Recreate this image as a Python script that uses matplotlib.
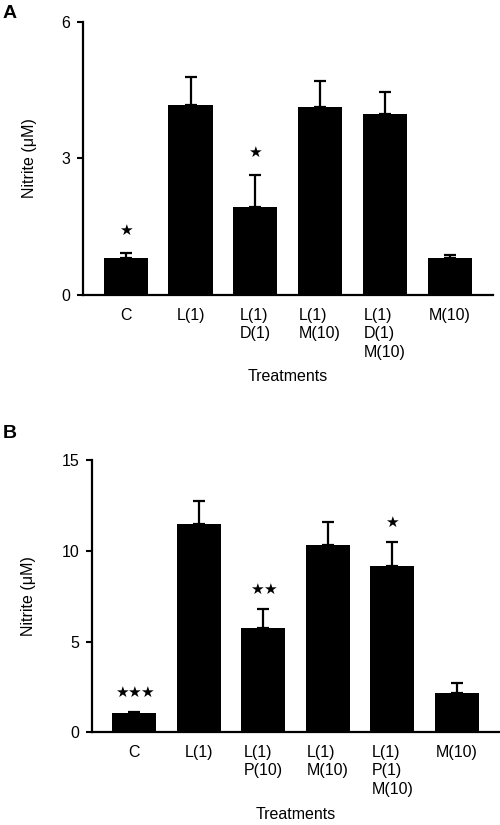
import numpy as np
import matplotlib
matplotlib.use("Agg")
import matplotlib.pyplot as plt

plt.rcParams["font.family"] = ["Liberation Sans", "DejaVu Sans"]

# panel A
labels_a = ["C", "L(1)", "L(1)\nD(1)", "L(1)\nM(10)", "L(1)\nD(1)\nM(10)", "M(10)"]
means_a = [0.81, 4.18, 1.93, 4.14, 3.97, 0.81]
sem_a = [0.11, 0.62, 0.71, 0.57, 0.50, 0.07]
stars_a = [1, 0, 1, 0, 0, 0]

# panel B
labels_b = ["C", "L(1)", "L(1)\nP(10)", "L(1)\nM(10)", "L(1)\nP(1)\nM(10)", "M(10)"]
means_b = [1.05, 11.48, 5.73, 10.32, 9.18, 2.18]
sem_b = [0.08, 1.28, 1.05, 1.25, 1.32, 0.52]
stars_b = [3, 0, 2, 0, 1, 0]

FS = 11.5


def draw_panel(ax, labels, means, sem, stars, ymax, yticks, star_off):
    x = np.arange(len(labels))
    ax.bar(x, means, width=0.68, color="black", zorder=2)
    ax.errorbar(x, means, yerr=[np.zeros(len(sem)), sem], fmt="none", ecolor="black",
                elinewidth=1.6, capsize=4.5, capthick=1.6, zorder=3)
    # significance stars, about 9 pt apart
    for xi, m, s, n in zip(x, means, sem, stars):
        for k in range(n):
            dx = (k - (n - 1) / 2) * 9.0
            ax.annotate("★", (xi, m + s), xytext=(dx, star_off), textcoords="offset points",
                        ha="center", va="center", fontsize=11, family="DejaVu Sans")
    ax.set_xlim(-0.66, len(labels) - 0.33)
    ax.set_ylim(0, ymax)
    ax.set_yticks(yticks)
    ax.set_xticks(x)
    ax.set_xticklabels(labels, fontsize=FS, linespacing=1.3, va="top", multialignment="left")
    ax.tick_params(axis="x", length=0, pad=9)
    ax.tick_params(axis="y", length=4, width=1.5, labelsize=FS, pad=5)
    for side in ["top", "right"]:
        ax.spines[side].set_visible(False)
    for side in ["left", "bottom"]:
        ax.spines[side].set_linewidth(1.6)
    ax.set_ylabel("Nitrite (μM)", fontsize=FS, labelpad=18)
    ax.set_xlabel("Treatments", fontsize=FS, labelpad=7)


fig = plt.figure(figsize=(5, 8.25), dpi=100)
ax_a = fig.add_axes([0.166, 0.6424, 0.82, 0.331])
ax_b = fig.add_axes([0.1834, 0.1124, 0.8166, 0.330])

draw_panel(ax_a, labels_a, means_a, sem_a, stars_a, 6, [0, 3, 6], 16)
draw_panel(ax_b, labels_b, means_b, sem_b, stars_b, 15, [0, 5, 10, 15], 14)

fig.text(0.006, 1 - 13 / 825, "A", fontsize=14, fontweight="bold", ha="left", va="center")
fig.text(0.006, 1 - 433 / 825, "B", fontsize=14, fontweight="bold", ha="left", va="center")

fig.savefig("out.png", dpi=100)
